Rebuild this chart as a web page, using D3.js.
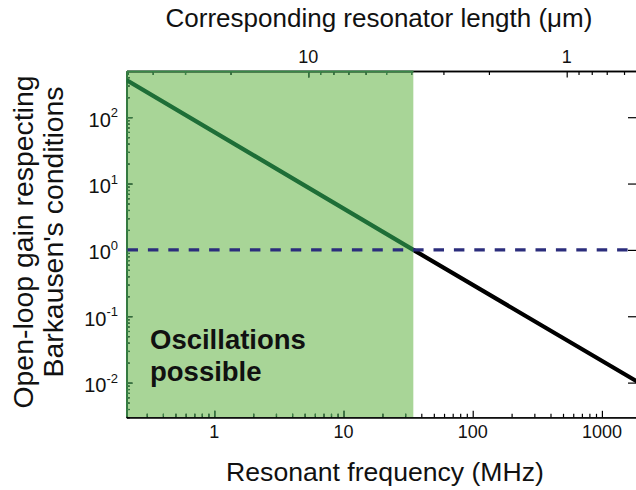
<!DOCTYPE html>
<html>
<head>
<meta charset="utf-8">
<script src="https://cdn.jsdelivr.net/npm/d3@7"></script>
<style>
  html, body { margin: 0; padding: 0; background: #fff; }
  svg { display: block; font-family: "Liberation Sans", Arial, sans-serif; }
</style>
</head>
<body>
<svg id="chart" width="636" height="490"></svg>
<script>
// ---------------- data ----------------
const freqMHz = [0.209, 34.7, 1972];        // resonant frequency points of the gain curve
const gain = [363, 1, 0.0098];              // open-loop gain at those frequencies
const threshold = [1];                      // Barkhausen threshold (dashed)
const oscRegionMHz = [0.209, 34.7];         // "oscillations possible" frequency span
const xDomain = [0.209, 1972];
const yDomain = [0.0030, 497];
const xTickValues = [1, 10, 100, 1000];
const yTickExponents = [2, 1, 0, -1, -2];
const topTickValues = [10, 1];              // resonator length labels (µm)
const lengthConst = [534];                  // f(MHz) * L(µm)^2
const texts = {
  top: "Corresponding resonator length (\u03bcm)",
  bottom: "Resonant frequency (MHz)",
  left1: "Open-loop gain respecting",
  left2: "Barkausen's conditions",
  note1: "Oscillations",
  note2: "possible"
};

// ---------------- layout ----------------
const L = 126.5, R = 640, T = 71, B = 417.3;
const svg = d3.select("#chart");
const x = d3.scaleLog().domain(xDomain).range([L, R]);
const y = d3.scaleLog().domain(yDomain).range([B, T]);
const lenOf = f => Math.sqrt(lengthConst[0] / f);
const xt = d3.scaleLog().domain([lenOf(xDomain[0]), lenOf(xDomain[1])]).range([L, R]);

const greenFill = "#a8d597", greenAxis = "#3a8748", greenLine = "#1e6e37", dashCol = "#2b2d7c";
const xB = x(oscRegionMHz[1]);

const defs = svg.append("defs");
defs.append("clipPath").attr("id", "clipGreen").append("rect")
  .attr("x", 0).attr("y", 0).attr("width", xB).attr("height", B - 0.6);
defs.append("clipPath").attr("id", "clipGreenPlot").append("rect")
  .attr("x", L).attr("y", T).attr("width", xB - L).attr("height", B - T);
defs.append("clipPath").attr("id", "clipWhitePlot").append("rect")
  .attr("x", xB).attr("y", T).attr("width", R - xB).attr("height", B - T);

// green region
svg.append("rect")
  .attr("x", x(oscRegionMHz[0])).attr("y", T)
  .attr("width", xB - x(oscRegionMHz[0]))
  .attr("height", B - T)
  .attr("fill", greenFill);

// tick helpers
function minorTicks(scale) {
  const d = scale.domain();
  const lo = Math.min(d[0], d[1]), hi = Math.max(d[0], d[1]);
  const out = [];
  for (let e = Math.floor(Math.log10(lo)) - 1; e <= Math.ceil(Math.log10(hi)); e++) {
    for (let k = 2; k <= 9; k++) {
      const v = k * Math.pow(10, e);
      if (v >= lo && v <= hi) out.push(v);
    }
  }
  return out;
}
function majorTicks(scale) {
  const d = scale.domain();
  const lo = Math.min(d[0], d[1]), hi = Math.max(d[0], d[1]);
  const out = [];
  for (let e = Math.floor(Math.log10(lo)); e <= Math.ceil(Math.log10(hi)); e++) {
    const v = Math.pow(10, e);
    if (v >= lo && v <= hi) out.push(v);
  }
  return out;
}

function drawFrame(color, clip) {
  const g = svg.append("g");
  if (clip) g.attr("clip-path", "url(#" + clip + ")");
  const style = sel => {
    sel.select(".domain").attr("stroke", color).attr("stroke-width", 1.3);
    sel.selectAll(".tick line").attr("stroke", color).attr("stroke-width", 1.2);
    sel.selectAll(".tick text").remove();
  };
  g.append("g").attr("transform", `translate(0,${B})`)
    .call(d3.axisBottom(x).tickValues(majorTicks(x)).tickSizeInner(-6.5).tickSizeOuter(0).tickFormat(""))
    .call(style);
  g.append("g").attr("transform", `translate(0,${B})`)
    .call(d3.axisBottom(x).tickValues(minorTicks(x)).tickSizeInner(-3.5).tickSizeOuter(0).tickFormat(""))
    .call(style);
  g.append("g").attr("transform", `translate(0,${T})`)
    .call(d3.axisTop(xt).tickValues(majorTicks(xt)).tickSizeInner(-6.5).tickSizeOuter(0).tickFormat(""))
    .call(style);
  g.append("g").attr("transform", `translate(0,${T})`)
    .call(d3.axisTop(xt).tickValues(minorTicks(xt)).tickSizeInner(-4).tickSizeOuter(0).tickFormat(""))
    .call(style);
  g.append("g").attr("transform", `translate(${L},0)`)
    .call(d3.axisLeft(y).tickValues(majorTicks(y)).tickSizeInner(-6).tickSizeOuter(0).tickFormat(""))
    .call(style);
  g.append("g").attr("transform", `translate(${L},0)`)
    .call(d3.axisLeft(y).tickValues(minorTicks(y)).tickSizeInner(-3.2).tickSizeOuter(0).tickFormat(""))
    .call(style);
  g.append("g").attr("transform", `translate(${R},0)`)
    .call(d3.axisRight(y).tickValues(majorTicks(y)).tickSizeInner(-12).tickSizeOuter(0).tickFormat(""))
    .call(style);
  g.append("g").attr("transform", `translate(${R},0)`)
    .call(d3.axisRight(y).tickValues(minorTicks(y)).tickSizeInner(-3.5).tickSizeOuter(0).tickFormat(""))
    .call(style);
}
drawFrame("#000", null);
drawFrame(greenAxis, "clipGreen");

// gain curve: green inside region, black outside
const pts = freqMHz.map((f, i) => [f, gain[i]]);
const line = d3.line().x(d => x(d[0])).y(d => y(d[1]));
svg.append("g").attr("clip-path", "url(#clipWhitePlot)")
  .append("path").datum(pts).attr("d", line)
  .attr("fill", "none").attr("stroke", "#000").attr("stroke-width", 4.2);
svg.append("g").attr("clip-path", "url(#clipGreenPlot)")
  .append("path").datum(pts).attr("d", line)
  .attr("fill", "none").attr("stroke", greenLine).attr("stroke-width", 4.2);

// threshold dashed line
svg.selectAll("line.thr").data(threshold).enter().append("line")
  .attr("class", "thr")
  .attr("x1", L + 1).attr("x2", R)
  .attr("y1", d => y(d)).attr("y2", d => y(d))
  .attr("stroke", dashCol).attr("stroke-width", 3.4)
  .attr("stroke-dasharray", "10.5,9.9");

// tick labels bottom
svg.append("g").selectAll("text").data(xTickValues).enter().append("text")
  .attr("x", d => x(d)).attr("y", 438).attr("text-anchor", "middle")
  .attr("font-size", 18).attr("fill", "#111").text(d => d);

// tick labels top
svg.append("g").selectAll("text").data(topTickValues).enter().append("text")
  .attr("x", d => xt(d)).attr("y", 63).attr("text-anchor", "middle")
  .attr("font-size", 18).attr("fill", "#111").text(d => d);

// tick labels left with superscripts
const yl = svg.append("g").selectAll("text").data(yTickExponents).enter().append("text")
  .attr("x", 118).attr("y", d => y(Math.pow(10, d)) + 9.5)
  .attr("text-anchor", "end").attr("font-size", 20).attr("fill", "#111");
yl.append("tspan").text("10");
yl.append("tspan").attr("dy", -9.5).attr("font-size", 13).text(d => d);

// axis titles
svg.append("text").attr("x", 379).attr("y", 27).attr("text-anchor", "middle")
  .attr("font-size", 26).attr("fill", "#111").text(texts.top);
svg.append("text").attr("x", 385).attr("y", 481).attr("text-anchor", "middle")
  .attr("font-size", 26.6).attr("fill", "#111").text(texts.bottom);
svg.append("text").attr("transform", "translate(33,242) rotate(-90)").attr("text-anchor", "middle")
  .attr("font-size", 28.4).attr("fill", "#111").text(texts.left1);
svg.append("text").attr("transform", "translate(63,232) rotate(-90)").attr("text-anchor", "middle")
  .attr("font-size", 28.4).attr("fill", "#111").text(texts.left2);

// annotation
svg.append("text").attr("x", 150).attr("y", 349).attr("font-size", 27.5).attr("font-weight", "bold")
  .attr("fill", "#111").text(texts.note1);
svg.append("text").attr("x", 150).attr("y", 381).attr("font-size", 27.5).attr("font-weight", "bold")
  .attr("fill", "#111").text(texts.note2);
</script>
</body>
</html>
